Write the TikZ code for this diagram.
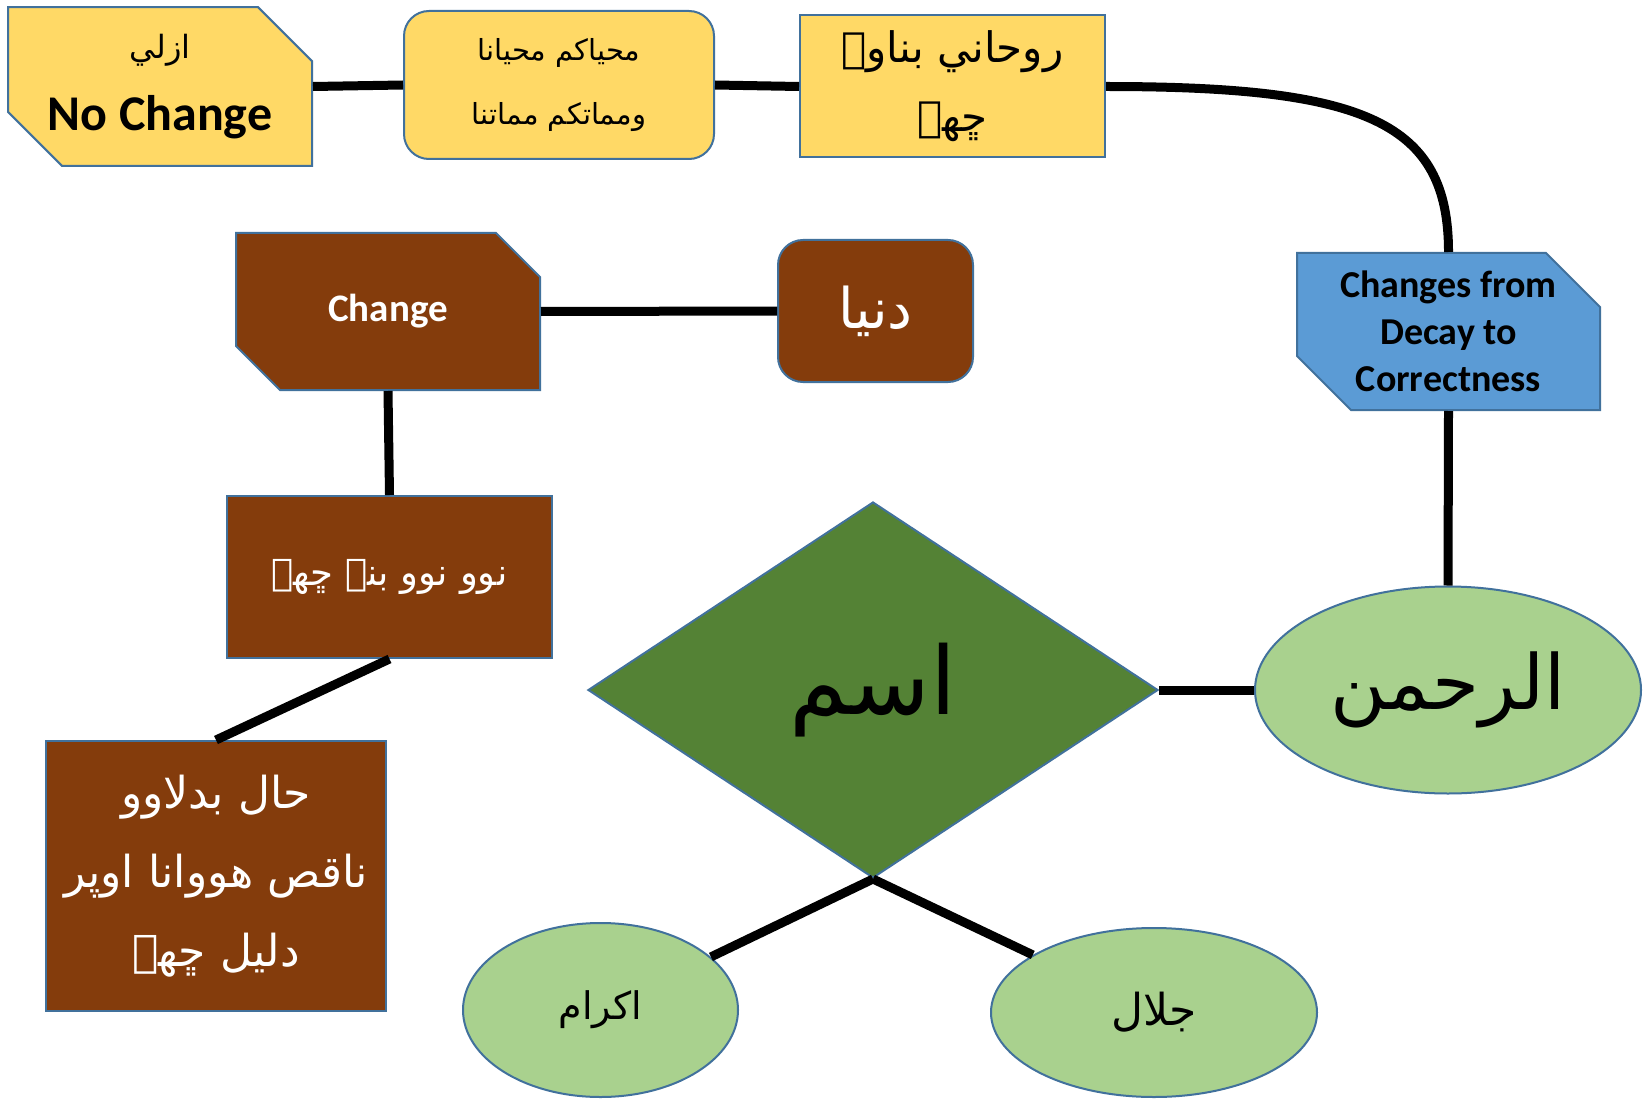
\documentclass[tikz,border=0pt]{standalone}
\usepackage{fontspec}
\setmainfont{Carlito}
\newfontfamily\arabicfont[Script=Arabic]{DejaVu Sans}
\TeXXeTstate=1
\usetikzlibrary{shapes.geometric,shapes.misc}
\definecolor{ybox}{HTML}{FFD966}
\definecolor{bord}{HTML}{41719C}
\definecolor{brn}{HTML}{843C0C}
\definecolor{bluebox}{HTML}{5B9BD5}
\definecolor{dgreen}{HTML}{548235}
\definecolor{lgreen}{HTML}{A9D18E}
\newcommand{\arsize}[1]{\arabicfont\fontsize{#1}{#1}\selectfont}
\tikzset{
  box/.style={draw=bord, line width=2pt, inner sep=0pt, align=center},
  snipbox/.style={box, chamfered rectangle, chamfered rectangle corners={north east,south west}, chamfered rectangle xsep=27pt, chamfered rectangle ysep=27pt},
  rbox/.style={box, rectangle, rounded corners=25pt},
  sqbox/.style={box, rectangle},
  ell/.style={box, ellipse, fill=lgreen},
  conn/.style={line width=9pt, black},
}
\begin{document}
\begin{tikzpicture}[x=1pt,y=-1pt]
\useasboundingbox[fill=white] (0,0) rectangle (1643,1099);
% top row
\node[snipbox, fill=ybox, minimum width=304pt, minimum height=157pt] (nochg) at (160,86.5)
  {{\arsize{32}\beginR ازلي\endR}\\[28pt] \fontsize{50}{50}\selectfont\bfseries No Change};
\node[rbox, fill=ybox, minimum width=310pt, minimum height=148pt] (hay) at (559,85)
  {{\arsize{29}\beginR محياكم محيانا\endR}\\[34pt] {\arsize{29}\beginR ومماتكم مماتنا\endR}};
\node[sqbox, fill=ybox, minimum width=305pt, minimum height=142pt] (roh) at (952.5,86.5)
  {{\arsize{42}\beginR روحاني بناوے\endR}\\[28pt] {\arsize{42}\beginR ڇھے\endR}};
% second row
\node[snipbox, fill=brn, text=white, minimum width=304pt, minimum height=157pt] (chg) at (388,311.5)
  {\fontsize{39}{39}\selectfont\bfseries Change};
\node[rbox, fill=brn, text=white, minimum width=195pt, minimum height=142pt] (dun) at (875.5,311)
  {\arsize{56}\beginR دنيا\endR};
\node[snipbox, fill=bluebox, minimum width=303pt, minimum height=157pt, inner ysep=-10pt,
      font={\fontsize{38}{47}\selectfont\bfseries}] (blue) at (1448.5,331.5)
  {Changes from\\ Decay to\\ Correctness};
% left column
\node[sqbox, fill=brn, text=white, minimum width=325pt, minimum height=162pt] (nov) at (389.5,577)
  {\arsize{37}\beginR نوو نوو بنے ڇھے\endR};
\node[sqbox, fill=brn, text=white, minimum width=340pt, minimum height=270pt] (hal) at (216,876)
  {{\arsize{44}\beginR حال بدلاوو\endR}\\[34pt] {\arsize{44}\beginR ناقص هووانا اوپر\endR}\\[34pt] {\arsize{44}\beginR دليل ڇھے\endR}};
% centre
\node[box, diamond, fill=dgreen, aspect=1.516, minimum width=570pt, minimum height=376pt] (dia) at (873,690)
  {\arsize{94}\beginR اسم\endR};
\node[ell, minimum width=386pt, minimum height=207pt] (rah) at (1448,690)
  {\arsize{76}\beginR الرحمن\endR};
\node[ell, minimum width=275pt, minimum height=174pt] (ak) at (600.5,1010)
  {\arsize{38}\beginR اکرام\endR};
\node[ell, minimum width=326pt, minimum height=169pt] (jal) at (1154,1012.5)
  {\arsize{44}\beginR جلال\endR};
% connectors
\draw[conn] (nochg.east) -- (hay.west);
\draw[conn] (hay.east) -- (roh.west);
\draw[conn] (roh.east) .. controls +(260,0) and +(0,-130) .. (blue.north);
\draw[conn] (blue.south) -- (rah.north);
\draw[conn] (dia.east) -- (rah.west);
\draw[conn] (chg.east) -- (dun.west);
\draw[conn] (chg.south) -- (nov.north);
\draw[conn] (nov.south) -- (hal.north);
\draw[conn] (dia.south) -- (ak);
\draw[conn] (dia.south) -- (jal);
\end{tikzpicture}
\end{document}
